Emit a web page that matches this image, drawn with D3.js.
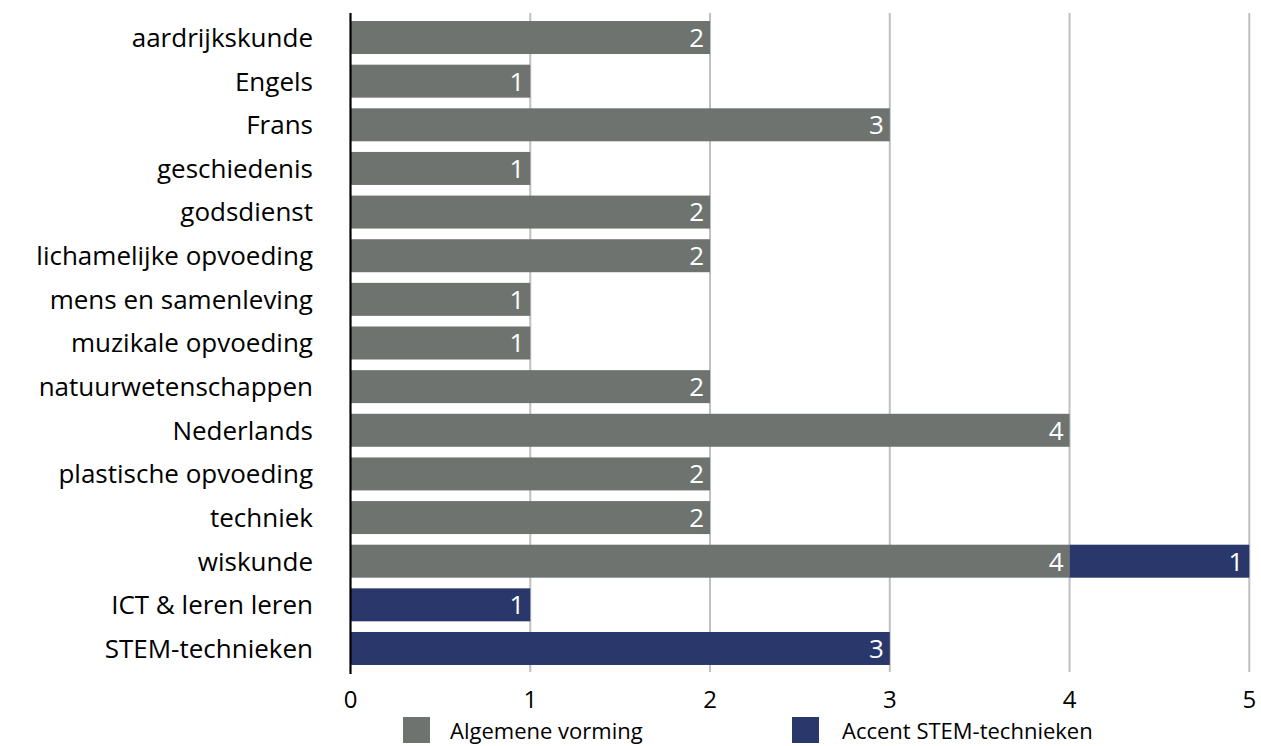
<!DOCTYPE html>
<html>
<head>
<meta charset="utf-8">
<script src="https://cdn.jsdelivr.net/npm/d3@7"></script>
<style>
  body { margin: 0; background: #fff; }
  text { font-family: "Open Sans", "DejaVu Sans", sans-serif; }
</style>
</head>
<body>
<script>
// data
var vakken = ["aardrijkskunde", "Engels", "Frans", "geschiedenis", "godsdienst",
  "lichamelijke opvoeding", "mens en samenleving", "muzikale opvoeding",
  "natuurwetenschappen", "Nederlands", "plastische opvoeding", "techniek",
  "wiskunde", "ICT & leren leren", "STEM-technieken"];
var algemeen = [2, 1, 3, 1, 2, 2, 1, 1, 2, 4, 2, 2, 4, 0, 0];
var accent = [0, 0, 0, 0, 0, 0, 0, 0, 0, 0, 0, 0, 1, 1, 3];
var reeksen = ["Algemene vorming", "Accent STEM-technieken"];
var kleuren = ["#6e7370", "#29376b"];
var xTicks = [0, 1, 2, 3, 4, 5];

var width = 1261, height = 746;
var svg = d3.select("body").append("svg")
  .attr("width", width)
  .attr("height", height);

// pick a font size so the longest label is about as wide as in the original
var probe = svg.append("text").attr("font-size", 100).text("lichamelijke opvoeding");
var fs = Math.min(26, 304 / probe.node().getComputedTextLength() * 100);
probe.remove();

var x = d3.scaleLinear().domain([0, 5]).range([350.5, 1249.3]);
var y = d3.scaleBand().domain(vakken).range([15.7, 670.3]).paddingInner(0.244).paddingOuter(0.122);

// gridlines
svg.append("g").selectAll("line")
  .data(xTicks.slice(1))
  .join("line")
  .attr("x1", d => x(d)).attr("x2", d => x(d))
  .attr("y1", 13).attr("y2", 672)
  .attr("stroke", "#bfbfbf").attr("stroke-width", 2);

// stacked rows
var rows = vakken.map(function(v, i) {
  return { vak: v, parts: [
    { s: 0, x0: 0, v: algemeen[i] },
    { s: 1, x0: algemeen[i], v: accent[i] }
  ].filter(p => p.v > 0) };
});

var rowG = svg.append("g").selectAll("g")
  .data(rows)
  .join("g")
  .attr("transform", d => "translate(0," + y(d.vak) + ")");

rowG.selectAll("rect")
  .data(d => d.parts)
  .join("rect")
  .attr("x", d => x(d.x0))
  .attr("width", d => x(d.x0 + d.v) - x(d.x0))
  .attr("height", y.bandwidth())
  .attr("fill", d => kleuren[d.s]);

rowG.selectAll("text")
  .data(d => d.parts)
  .join("text")
  .attr("x", d => x(d.x0 + d.v) - 6)
  .attr("y", y.bandwidth() / 2)
  .attr("dy", "0.36em")
  .attr("text-anchor", "end")
  .attr("fill", "#fff")
  .attr("font-size", fs)
  .text(d => d.v);

// category labels
svg.append("g").selectAll("text")
  .data(vakken)
  .join("text")
  .attr("x", 313)
  .attr("y", d => y(d) + y.bandwidth() / 2)
  .attr("dy", "0.36em")
  .attr("text-anchor", "end")
  .attr("font-size", fs)
  .attr("fill", "#000")
  .text(d => d);

// vertical axis line
svg.append("line")
  .attr("x1", x(0)).attr("x2", x(0))
  .attr("y1", 13).attr("y2", 674)
  .attr("stroke", "#000").attr("stroke-width", 2.2);

// x tick labels
svg.append("g").selectAll("text")
  .data(xTicks)
  .join("text")
  .attr("x", d => x(d))
  .attr("y", 708)
  .attr("text-anchor", "middle")
  .attr("font-size", 24)
  .attr("fill", "#000")
  .text(d => d);

// legend
var legendX = [403, 792];
var leg = svg.append("g").selectAll("g")
  .data(reeksen)
  .join("g")
  .attr("transform", (d, i) => "translate(" + legendX[i] + ",717)");
leg.append("rect")
  .attr("width", 27).attr("height", 26)
  .attr("fill", (d, i) => kleuren[i]);
leg.append("text")
  .attr("x", (d, i) => i === 0 ? 47 : 50)
  .attr("y", 22)
  .attr("font-size", 22)
  .attr("fill", "#000")
  .text(d => d);
</script>
</body>
</html>
